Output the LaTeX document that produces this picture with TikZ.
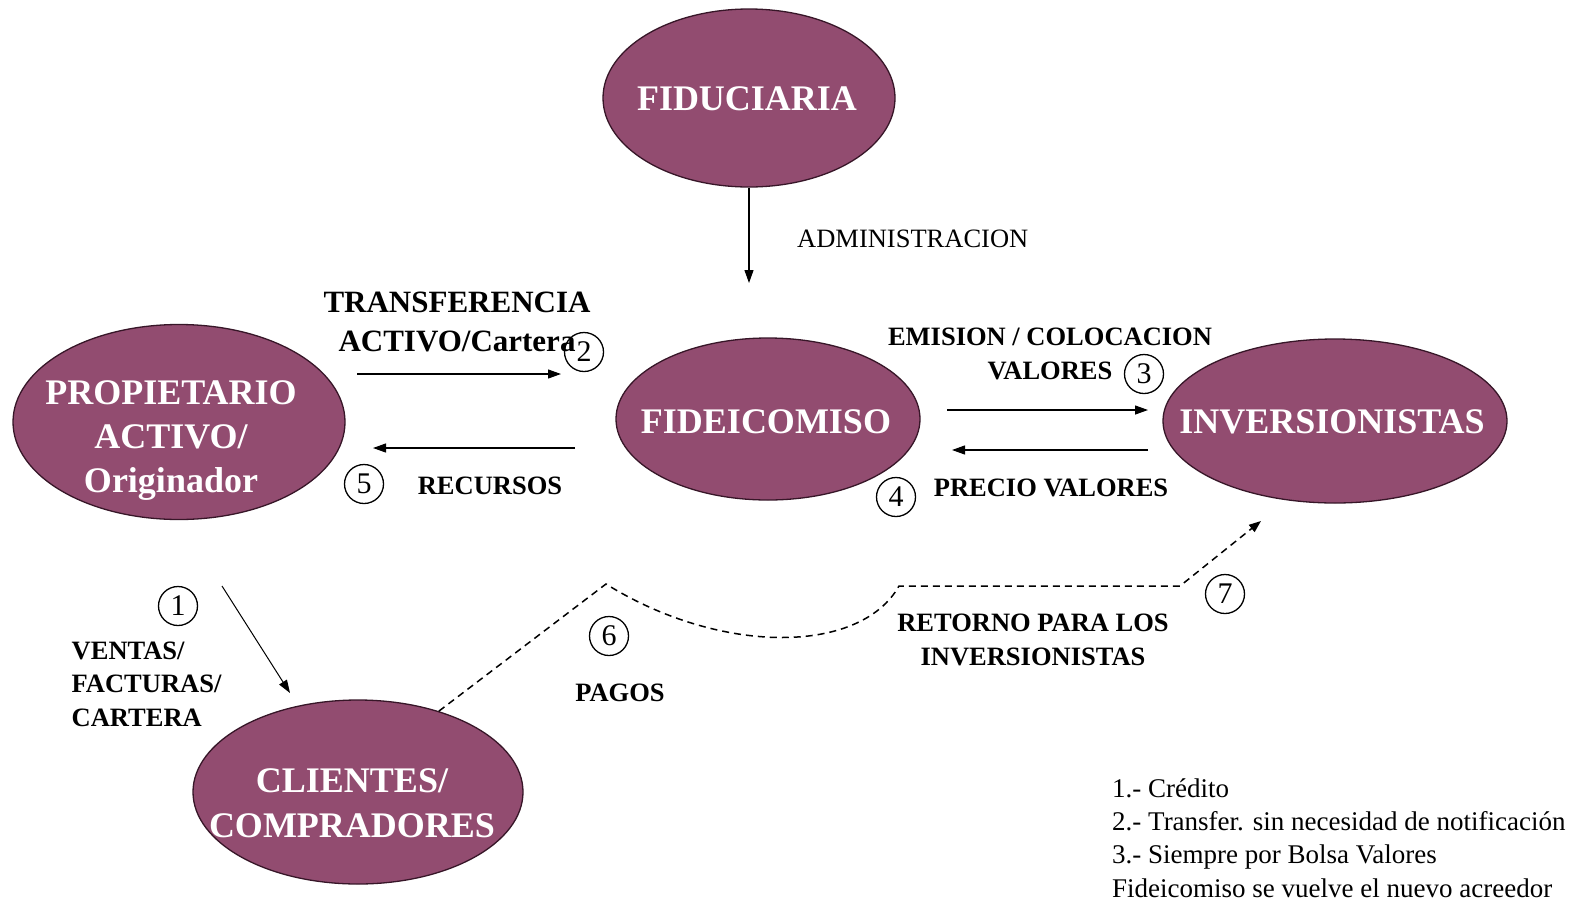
\documentclass[tikz,border=0pt]{standalone}
\usepackage{fontspec}
\setmainfont{Liberation Serif}
\usetikzlibrary{shapes.geometric,arrows.meta}
\definecolor{plum}{RGB}{146,76,112}
\definecolor{plumedge}{RGB}{55,22,40}
\begin{document}
\begin{tikzpicture}[x=1pt,y=-1pt,
  ell/.style={ellipse, draw=plumedge, line width=1.3pt, fill=plum, inner sep=0pt},
  etxt/.style={text=white, font=\fontsize{36}{44}\selectfont\bfseries, align=center, inner sep=0pt},
  lbl/.style={font=\fontsize{26.5}{34}\selectfont\bfseries, align=center, inner sep=0pt},
  reg/.style={font=\fontsize{26.5}{33}\selectfont, inner sep=0pt},
  num/.style={circle, draw, line width=1.3pt, minimum size=39pt, inner sep=0pt, font=\fontsize{30}{30}\selectfont},
  arr/.style={-{Triangle[length=13pt,width=9pt]}, line width=1.2pt},
  dsh/.style={line width=1.5pt, dash pattern=on 7pt off 5pt}
]
\useasboundingbox (0,0) rectangle (1579,900);
\fill[white] (0,0) rectangle (1579,900);

% ellipses
\node[ell, minimum width=292pt, minimum height=178pt] (fid) at (749,98) {};
\node[etxt] (fidT) at (747,99) {FIDUCIARIA};
\node[ell, minimum width=332pt, minimum height=195pt] (prop) at (179,422) {};
\node[etxt] (propT) at (171,441) {PROPIETARIO\\ACTIVO/\\Originador};
\node[ell, minimum width=304pt, minimum height=162pt] (fide) at (768,419) {};
\node[etxt] (fideT) at (766,422) {FIDEICOMISO};
\node[ell, minimum width=344pt, minimum height=164pt] (inv) at (1335,421) {};
\node[etxt] (invT) at (1332,422) {INVERSIONISTAS};
\node[ell, minimum width=330pt, minimum height=184pt] (cli) at (358,792) {};
\node[etxt, font=\fontsize{36}{45}\selectfont\bfseries] (cliT) at (352,803) {CLIENTES/\\COMPRADORES};

% coordinates for free arrow ends
\coordinate (fidEnd) at (749,283);
\coordinate (trA) at (357,374);
\coordinate (trB) at (561,374);
\coordinate (reA) at (575,448);
\coordinate (reB) at (373,448);
\coordinate (emA) at (947,410);
\coordinate (emB) at (1148,410);
\coordinate (prA) at (1148,450);
\coordinate (prB) at (952,450);
\coordinate (veA) at (222,586);
\coordinate (veB) at (290,693);
\coordinate (d1) at (606,584);
\coordinate (d2) at (899,586);
\coordinate (d3) at (1180,586);
\coordinate (d4) at (1261,521);

% arrows
\draw[arr] (fid.south) -- (fidEnd);
\draw[arr] (trA) -- (trB);
\draw[arr] (reA) -- (reB);
\draw[arr] (emA) -- (emB);
\draw[arr] (prA) -- (prB);
\draw[arr, line width=1pt] (veA) -- (veB);
\draw[dsh, -{Triangle[length=12pt,width=9pt]}] (cli.45) -- (d1) .. controls (720,655) and (860,655) .. (d2) -- (d3) -- (d4);

% labels
\node[reg, anchor=west] (adm) at (797,239) {ADMINISTRACION};
\node[lbl, font=\fontsize{31}{39}\selectfont\bfseries] (tra) at (457,322) {TRANSFERENCIA\\ACTIVO/Cartera};
\node[lbl] (rec) at (490,486) {RECURSOS};
\node[lbl] (emi) at (1050,354) {EMISION / COLOCACION\\VALORES};
\node[lbl] (pre) at (1051,488) {PRECIO VALORES};
\node[lbl, align=left, anchor=west, font=\fontsize{26.5}{33.5}\selectfont\bfseries] (ven) at (71.5,684) {VENTAS/\\FACTURAS/\\CARTERA};
\node[lbl] (pag) at (620,693) {PAGOS};
\node[lbl] (ret) at (1033,640) {RETORNO PARA LOS\\INVERSIONISTAS};

% numbers
\node[num] (n1) at (178,606) {1};
\node[num] (n2) at (584,352) {2};
\node[num] (n3) at (1144,374) {3};
\node[num] (n4) at (896,497) {4};
\node[num] (n5) at (364,484) {5};
\node[num] (n6) at (609,636) {6};
\node[num] (n7) at (1225,594) {7};

% legend
\node[reg, anchor=west, align=left, font=\fontsize{27}{33.3}\selectfont] (leg) at (1112,838) {1.- Crédito\\2.- Transfer. sin necesidad de notificación\\3.- Siempre por Bolsa Valores\\Fideicomiso se vuelve el nuevo acreedor};
\end{tikzpicture}
\end{document}
